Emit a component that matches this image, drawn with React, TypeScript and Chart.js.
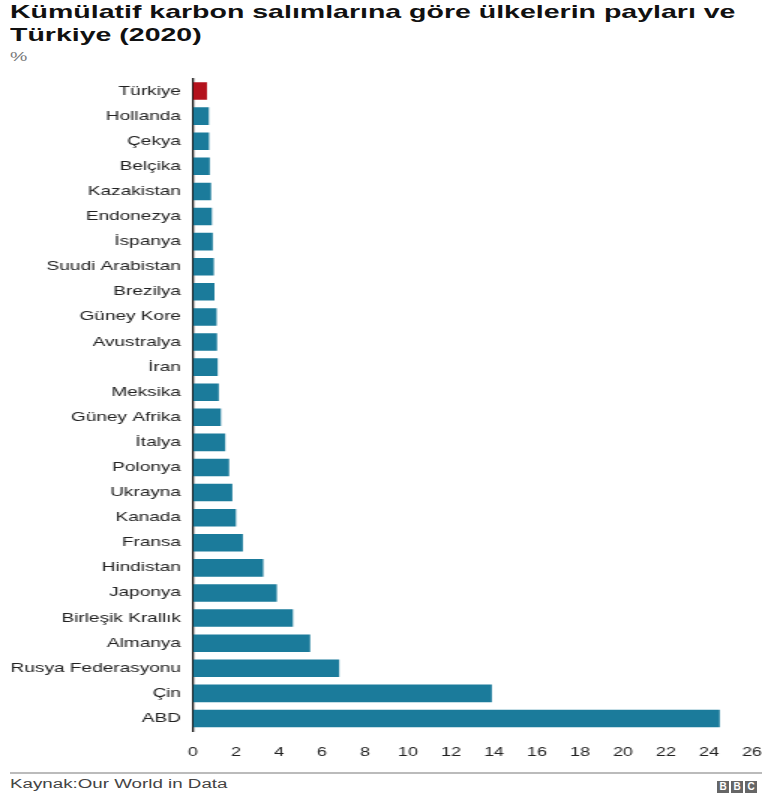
import React, { useEffect, useRef } from "react";
import { Chart, registerables } from "chart.js";

Chart.register(...registerables);

const countries = [
  "Türkiye", "Hollanda", "Çekya", "Belçika", "Kazakistan", "Endonezya", "İspanya",
  "Suudi Arabistan", "Brezilya", "Güney Kore", "Avustralya", "İran", "Meksika",
  "Güney Afrika", "İtalya", "Polonya", "Ukrayna", "Kanada", "Fransa", "Hindistan",
  "Japonya", "Birleşik Krallık", "Almanya", "Rusya Federasyonu", "Çin", "ABD",
];
const shares = [
  0.65, 0.74, 0.75, 0.78, 0.84, 0.88, 0.92, 0.97, 1.0, 1.1, 1.12, 1.15, 1.2,
  1.3, 1.5, 1.68, 1.83, 2.0, 2.32, 3.27, 3.9, 4.65, 5.45, 6.8, 13.9, 24.5,
];
const highlight = "Türkiye";
const xTicks = [0, 2, 4, 6, 8, 10, 12, 14, 16, 18, 20, 22, 24, 26];

const TEAL = "#1b7b9b";
const RED = "#b3111c";
const FONT = "'Liberation Sans', Arial, sans-serif";
// horizontal stretch of the whole graphic (the source image is widened)
const S = 1.5;
const CANVAS_W = 762;
const CANVAS_TOP = 65;
const CANVAS_H = 696;

export default function App() {
  const ref = useRef<HTMLCanvasElement>(null);
  useEffect(() => {
    if (!ref.current) return;
    const chart = new Chart(ref.current, {
      type: "bar",
      data: {
        labels: countries,
        datasets: [
          {
            data: shares,
            backgroundColor: countries.map((c) => (c === highlight ? RED : TEAL)),
            barPercentage: 0.7,
            categoryPercentage: 1,
          },
        ],
      },
      options: {
        indexAxis: "y",
        animation: false,
        responsive: false,
        devicePixelRatio: 1,
        layout: { padding: { left: 0, right: 10 / S, top: 78.5 - CANVAS_TOP, bottom: 0 } },
        plugins: { legend: { display: false }, tooltip: { enabled: false } },
        scales: {
          x: {
            min: 0,
            max: 26,
            afterBuildTicks: (s: any) => {
              s.ticks = xTicks.map((v) => ({ value: v }));
            },
            afterFit: (s: any) => {
              s.height = 30;
              s.paddingLeft = 0;
              s.paddingRight = 0;
            },
            grid: { display: false, drawTicks: false },
            border: { display: false },
            ticks: { color: "#222", font: { family: FONT, size: 12 }, padding: 14, maxRotation: 0, autoSkip: false },
          },
          y: {
            afterFit: (s: any) => {
              s.width = 193 / S;
              s.paddingTop = 0;
              s.paddingBottom = 0;
            },
            grid: { display: false, drawTicks: false },
            border: { display: true, color: "#111", width: 1.3 },
            ticks: { color: "#222", font: { family: FONT, size: 12.7 }, padding: 8, autoSkip: false },
          },
        },
      },
    });
    return () => chart.destroy();
  }, []);

  const box: React.CSSProperties = {
    width: 12,
    height: 12,
    background: "#666",
    color: "#fff",
    fontFamily: FONT,
    fontWeight: "bold",
    fontSize: 10,
    lineHeight: "12px",
    textAlign: "center",
    marginRight: 2,
  };

  const stretch: React.CSSProperties = { transform: `scaleX(${S})`, transformOrigin: "0 0" };

  return (
    <div style={{ position: "absolute", left: 0, top: 0, width: 762, height: 798, background: "#fff", overflow: "hidden" }}>
      <div
        style={{
          position: "absolute",
          left: 10,
          top: 1,
          fontFamily: FONT,
          fontWeight: "bold",
          fontSize: 19,
          lineHeight: "22.5px",
          color: "#111",
          width: 750 / S,
          ...stretch,
        }}
      >
        Kümülatif karbon salımlarına göre ülkelerin payları ve Türkiye (2020)
      </div>
      <div style={{ position: "absolute", left: 10, top: 49, fontFamily: FONT, fontSize: 13, color: "#777", ...stretch }}>%</div>
      <canvas
        ref={ref}
        width={Math.round(CANVAS_W / S)}
        height={CANVAS_H}
        style={{ position: "absolute", left: 0, top: CANVAS_TOP, width: CANVAS_W, height: CANVAS_H }}
      />
      <div style={{ position: "absolute", left: 10, top: 772, width: 752, height: 1.5, background: "#bbb" }} />
      <div style={{ position: "absolute", left: 10, top: 777, fontFamily: FONT, fontSize: 12.5, color: "#444", ...stretch }}>
        Kaynak:Our World in Data
      </div>
      <div style={{ position: "absolute", left: 717, top: 781, display: "flex" }}>
        <div style={box}>B</div>
        <div style={box}>B</div>
        <div style={box}>C</div>
      </div>
    </div>
  );
}
